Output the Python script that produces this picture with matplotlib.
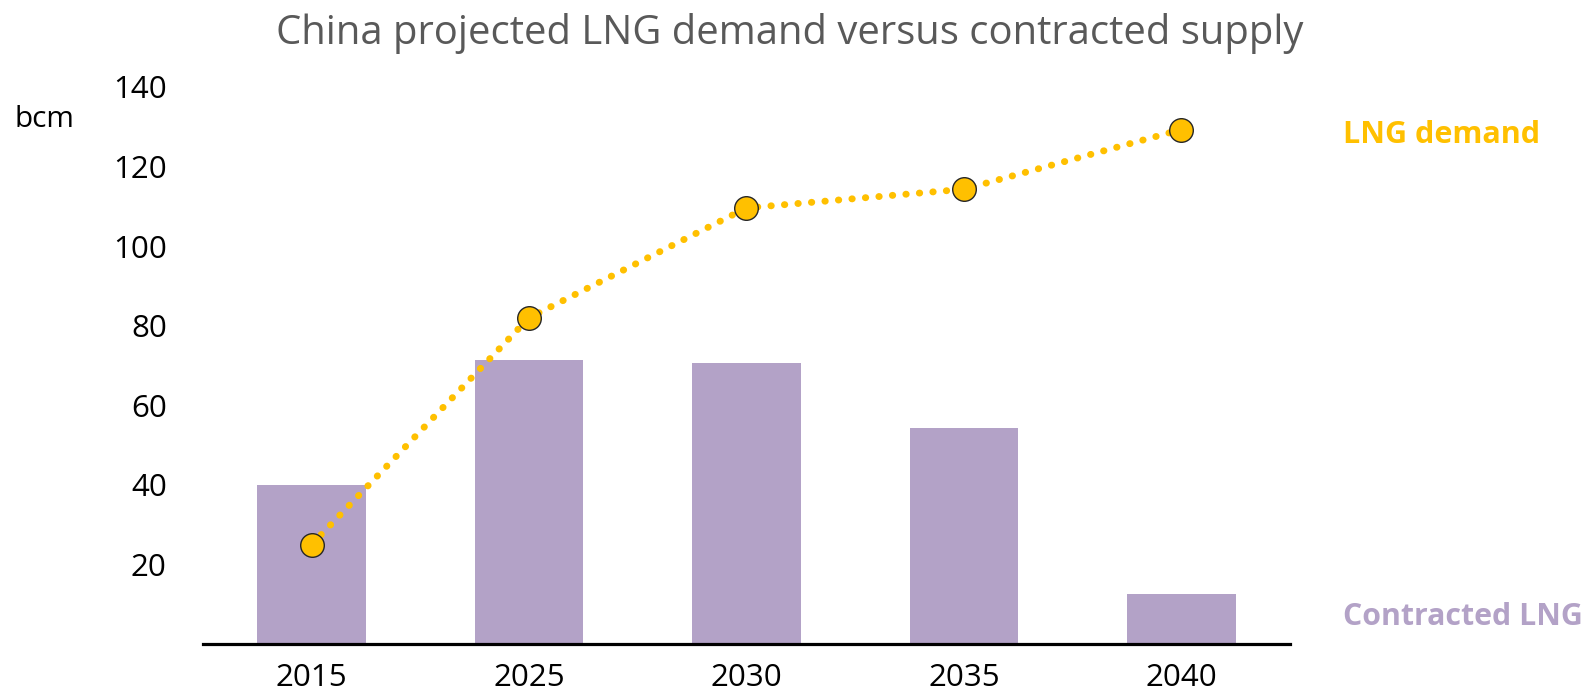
import numpy as np
import matplotlib
matplotlib.use("Agg")
import matplotlib.pyplot as plt

plt.rcParams['font.family'] = ['Open Sans', 'DejaVu Sans']

# Data
years = ['2015', '2025', '2030', '2035', '2040']
contracted = [40, 71.5, 70.5, 54.2, 12.5]
demand = [25, 82, 109.6, 114.3, 129.3]
yticks = [20, 40, 60, 80, 100, 120, 140]

bar_color = '#B3A2C7'
line_color = '#FFC000'

fig = plt.figure(figsize=(15.93, 6.93), dpi=100)
ax = fig.add_axes([0.1274, 0.0707, 0.6824, 0.8038])

x = np.arange(len(years))
ax.bar(x, contracted, width=0.5, color=bar_color, zorder=2)
ax.plot(x, demand, color=line_color, lw=5, linestyle=(0, (0.05, 1.9)),
        dash_capstyle='round', zorder=3)
ax.plot(x, demand, linestyle='none', marker='o', markersize=17,
        markerfacecolor=line_color, markeredgecolor='#262626',
        markeredgewidth=1.0, zorder=4, clip_on=False)

ax.set_xlim(-0.5, 4.5)
ax.set_ylim(0, 140)
ax.set_xticks(x)
ax.set_xticklabels(years)
ax.set_yticks(yticks)
ax.tick_params(axis='both', length=0, labelsize=22.5, colors='black')
ax.tick_params(axis='y', pad=26)
ax.tick_params(axis='x', pad=14)

for s in ['top', 'right', 'left']:
    ax.spines[s].set_visible(False)
ax.spines['bottom'].set_linewidth(2.3)
ax.spines['bottom'].set_color('black')
ax.spines['bottom'].set_zorder(5)

fig.text(0.496, 0.952, 'China projected LNG demand versus contracted supply',
         ha='center', va='center', fontsize=28.8, color='#595959')
fig.text(0.009, 0.828, 'bcm', ha='left', va='center', fontsize=21.5, color='black')
fig.text(0.843, 0.805, 'LNG demand', ha='left', va='center', fontsize=22,
         fontweight='bold', color=line_color)
fig.text(0.843, 0.110, 'Contracted LNG', ha='left', va='center', fontsize=21.8,
         fontweight='bold', color=bar_color)

fig.savefig('out.png', dpi=100)
